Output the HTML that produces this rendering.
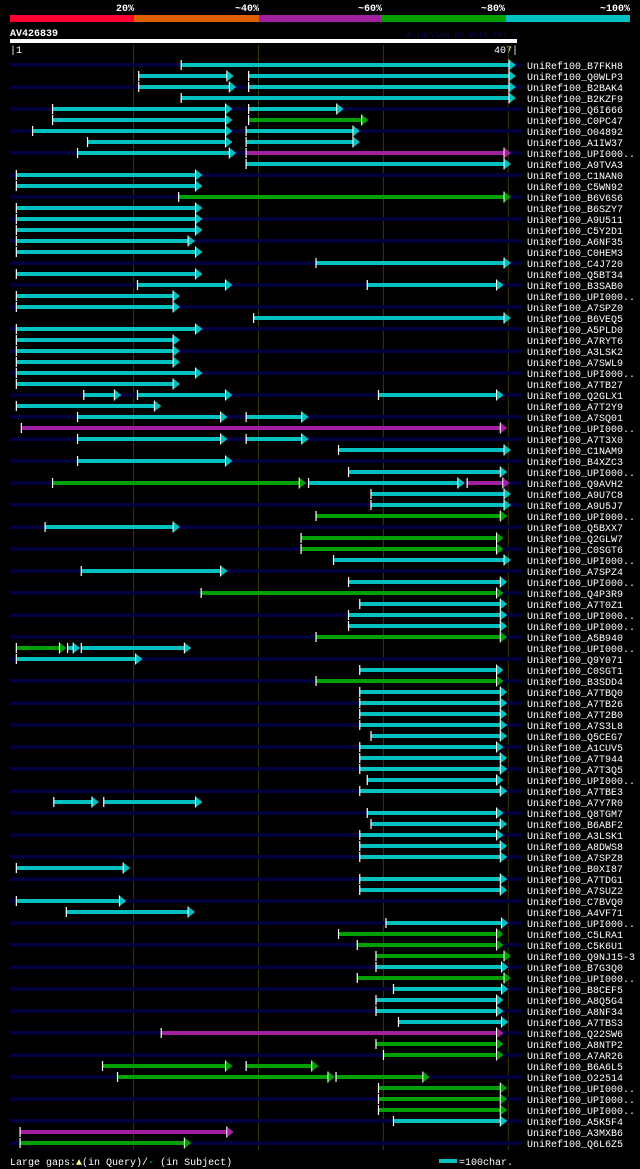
<!DOCTYPE html>
<html><head><meta charset="utf-8"><style>
html,body{margin:0;padding:0;background:#000;}
svg{display:block;}
text{font-family:"Liberation Mono","DejaVu Sans Mono",monospace;}
</style></head><body>
<svg id="chart" width="640" height="1169" viewBox="0 0 640 1169" xmlns="http://www.w3.org/2000/svg">
<rect x="0" y="0" width="640" height="1169" fill="#000"/>
<g>
<rect x="10" y="15" width="124" height="7" fill="#ff0030"/>
<rect x="134" y="15" width="125" height="7" fill="#e06000"/>
<rect x="259" y="15" width="123" height="7" fill="#a020a0"/>
<rect x="382" y="15" width="124" height="7" fill="#00a000"/>
<rect x="506" y="15" width="124" height="7" fill="#00c0c0"/>
<text x="134" y="11" fill="#fff" font-size="10" font-weight="bold" text-anchor="end">20%</text>
<text x="259" y="11" fill="#fff" font-size="10" font-weight="bold" text-anchor="end">~40%</text>
<text x="382" y="11" fill="#fff" font-size="10" font-weight="bold" text-anchor="end">~60%</text>
<text x="505" y="11" fill="#fff" font-size="10" font-weight="bold" text-anchor="end">~80%</text>
<text x="630" y="11" fill="#fff" font-size="10" font-weight="bold" text-anchor="end">~100%</text>
</g>
<text x="10" y="36" fill="#fff" font-size="10" font-weight="bold">AV426839</text>
<text x="517" y="37" fill="#0a0a50" font-size="8" text-anchor="end">AlignView.pm Beta rel.7</text>
<rect x="10" y="39" width="507" height="4" fill="#fff"/>
<text x="10" y="53" fill="#fff" font-size="10">|1</text>
<text x="518" y="53" fill="#fff" font-size="10" text-anchor="end">407|</text>
<g id="grid"></g>
<g id="rows"></g>
<g>
<text x="10" y="1165" fill="#fff" font-size="10">Large gaps:<tspan fill="#ffff80">▲</tspan>(in Query)/<tspan fill="#00c0c0">-</tspan> (in Subject)</text>
<rect x="439" y="1159" width="18" height="4" fill="#00c0c0"/>
<text x="459" y="1165" fill="#fff" font-size="10">=100char.</text>
</g>
</svg>
<script>
const queryLength = 407;
const gridTicks = [100, 200, 300, 400];
const hitNames = ["B7FKH8","Q0WLP3","B2BAK4","B2KZF9","Q6I666","C0PC47","O04892","A1IW37","UPI000..","A9TVA3",
"C1NAN0","C5WN92","B6V6S6","B6SZY7","A9U511","C5Y2D1","A6NF35","C0HEM3","C4J720","Q5BT34",
"B3SAB0","UPI000..","A7SPZ0","B6VEQ5","A5PLD0","A7RYT6","A3LSK2","A7SWL9","UPI000..","A7TB27",
"Q2GLX1","A7T2Y9","A7SQ01","UPI000..","A7T3X0","C1NAM9","B4XZC3","UPI000..","Q9AVH2","A9U7C8",
"A9U5J7","UPI000..","Q5BXX7","Q2GLW7","C0SGT6","UPI000..","A7SPZ4","UPI000..","Q4P3R9","A7T0Z1",
"UPI000..","UPI000..","A5B940","UPI000..","Q9Y071","C0SGT1","B3SDD4","A7TBQ0","A7TB26","A7T2B0",
"A7S3L8","Q5CEG7","A1CUV5","A7T944","A7T3Q5","UPI000..","A7TBE3","A7Y7R0","Q8TGM7","B6ABF2",
"A3LSK1","A8DWS8","A7SPZ8","B0XI87","A7TDG1","A7SUZ2","C7BVQ0","A4VF71","UPI000..","C5LRA1",
"C5K6U1","Q9NJ15-3","B7G3Q0","UPI000..","B8CEF5","A8Q5G4","A8NF34","A7TBS3","Q22SW6","A8NTP2",
"A7AR26","B6A6L5","O22514","UPI000..","UPI000..","UPI000..","A5K5F4","A3MXB6","Q6L6Z5"];
// segments per hit: [start, end, identity class]
const hitSegments = [
[[138,407,"c"]],[[104,181,"c"],[192,407,"c"]],[[104,183,"c"],[192,407,"c"]],[[138,407,"c"]],[[35,180,"c"],[192,269,"c"]],
[[35,180,"c"],[192,289,"g"]],[[19,180,"c"],[190,282,"c"]],[[63,180,"c"],[190,282,"c"]],[[55,183,"c"],[190,403,"m"]],[[190,403,"c"]],
[[6,156,"c"]],[[6,156,"c"]],[[136,403,"g"]],[[6,156,"c"]],[[6,156,"c"]],
[[6,156,"c"]],[[6,150,"c"]],[[6,156,"c"]],[[246,403,"c"]],[[6,156,"c"]],
[[103,180,"c"],[287,397,"c"]],[[6,138,"c"]],[[6,138,"c"]],[[196,403,"c"]],[[6,156,"c"]],
[[6,138,"c"]],[[6,138,"c"]],[[6,138,"c"]],[[6,156,"c"]],[[6,138,"c"]],
[[60,91,"c"],[103,180,"c"],[296,397,"c"]],[[6,123,"c"]],[[55,176,"c"],[190,241,"c"]],[[10,400,"m"]],[[55,176,"c"],[190,241,"c"]],
[[264,403,"c"]],[[55,180,"c"]],[[272,400,"c"]],[[35,239,"g"],[240,366,"c"],[367,402,"m"]],[[290,403,"c"]],
[[290,403,"c"]],[[246,400,"g"]],[[29,138,"c"]],[[234,397,"g"]],[[234,397,"g"]],
[[260,403,"c"]],[[58,176,"c"]],[[272,400,"c"]],[[154,397,"g"]],[[281,400,"c"]],
[[272,400,"c"]],[[272,400,"c"]],[[246,400,"g"]],[[6,47,"g"],[47,58,"c"],[58,147,"c"]],[[6,108,"c"]],
[[281,397,"c"]],[[246,397,"g"]],[[281,400,"c"]],[[281,400,"c"]],[[281,400,"c"]],
[[281,400,"c"]],[[290,400,"c"]],[[281,397,"c"]],[[281,400,"c"]],[[281,400,"c"]],
[[287,397,"c"]],[[281,400,"c"]],[[36,73,"c"],[76,156,"c"]],[[287,397,"c"]],[[290,400,"c"]],
[[281,397,"c"]],[[281,400,"c"]],[[281,400,"c"]],[[6,98,"c"]],[[281,400,"c"]],
[[281,400,"c"]],[[6,95,"c"]],[[46,150,"c"]],[[302,401,"c"]],[[264,397,"g"]],
[[279,397,"g"]],[[294,403,"g"]],[[294,401,"c"]],[[279,403,"g"]],[[308,401,"c"]],
[[294,397,"c"]],[[294,397,"c"]],[[312,401,"c"]],[[122,397,"m"]],[[294,397,"g"]],
[[300,397,"g"]],[[75,180,"g"],[190,249,"g"]],[[87,262,"g"],[262,338,"g"]],[[296,400,"g"]],[[296,400,"g"]],
[[296,400,"g"]],[[308,400,"c"]],[[9,181,"m"]],[[9,147,"g"]]
];
const NS = "http://www.w3.org/2000/svg";
const colorMap = {c:"#00c0c0", g:"#00a000", m:"#a020a0"};
function xScale(p){ return 10 + (p - 1) * (507 / (queryLength - 1)); }
function yRow(i){ return 65 + i * 11; }
function mk(tag, attrs, parent){
  const el = document.createElementNS(NS, tag);
  for (const k in attrs) el.setAttribute(k, attrs[k]);
  parent.appendChild(el);
  return el;
}
const grid = document.getElementById('grid');
gridTicks.forEach(t => {
  const l = mk('line', {x1:xScale(t), x2:xScale(t), y1:45, y2:1150, stroke:"#3a3a00", "stroke-width":1}, grid);
  
  
});
const rows = document.getElementById('rows');
hitNames.forEach((name, i) => {
  const y = yRow(i);
  const g = mk('g', {}, rows);
  
  
  if (i % 2 === 0) {
    const bg = mk('rect', {x:10, y:y - 2, width:512, height:4, fill:"#00003a"}, g);
    
    
  }
  hitSegments[i].forEach(seg => {
    const x1 = xScale(seg[0]), x2 = xScale(seg[1]);
    const col = colorMap[seg[2]];
    const bar = mk('rect', {x:x1, y:y - 2, width:Math.max(1, x2 - x1 - 5), height:4, fill:col}, g);
    
    
    const tick = mk('rect', {x:x1 - 0.5, y:y - 5, width:1.2, height:10, fill:"#fff"}, g);
    
    
    const tip = x2 - 1;
    const arrow = mk('polygon', {points:(tip - 7) + ',' + (y - 5.5) + ' ' + tip + ',' + y + ' ' + (tip - 7) + ',' + (y + 5.5), fill:col}, g);
    
    
    const edge = mk('line', {x1:tip - 7, y1:y - 5.5, x2:tip - 7, y2:y + 5.5, stroke:"#fff", "stroke-width":1}, g);
    
    
  });
  const t = mk('text', {x:527, y:y + 4, fill:"#fff", "font-size":10}, g);
  t.textContent = 'UniRef100_' + name;
  
  
});
</script>
</body></html>
